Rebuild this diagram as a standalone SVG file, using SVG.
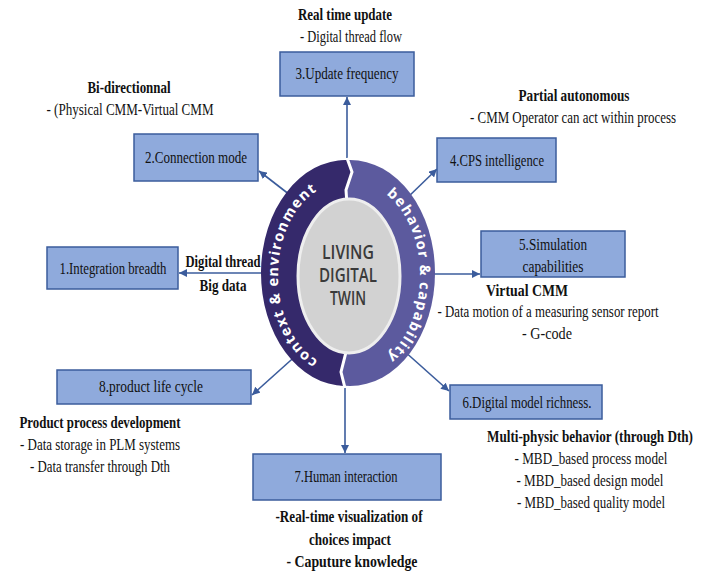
<svg xmlns="http://www.w3.org/2000/svg" width="707" height="574" viewBox="0 0 707 574">
<defs>
<style>
.box{fill:#8faadc;stroke:#3b5c9c;stroke-width:1.5}
.t{font-family:"Liberation Serif","Times New Roman","DejaVu Serif",serif;font-size:16px;fill:#111;text-anchor:middle}
.b{font-weight:bold}
.con{stroke:#3b5c9c;stroke-width:1.6;fill:none;marker-end:url(#ah)}
.ring{font-family:"Open Sans","DejaVu Sans",sans-serif;font-size:14.5px;font-weight:bold;fill:#fff;letter-spacing:1.3px}
.core{font-family:"Open Sans","DejaVu Sans",sans-serif;font-size:20px;font-weight:600;fill:#3a3a3a;text-anchor:middle}
</style>
<marker id="ah" viewBox="0 0 10 10" refX="10" refY="5" markerWidth="8" markerHeight="8" markerUnits="userSpaceOnUse" orient="auto">
<path d="M0,0 L10,5 L0,10 Z" fill="#3b5c9c"/>
</marker>
<path id="pl" d="M341,367 A62 90 0 0 1 341,184"/>
<path id="pr" d="M357,184 A62 90 0 0 1 357,367"/>
</defs>
<rect width="707" height="574" fill="#fff"/>

<g id="connectors">
<line class="con" x1="265" y1="273" x2="179" y2="273"/>
<line class="con" x1="290" y1="195" x2="259" y2="171"/>
<line class="con" x1="347" y1="158" x2="347" y2="97"/>
<line class="con" x1="405" y1="200" x2="437" y2="169"/>
<line class="con" x1="432" y1="274" x2="480" y2="274"/>
<line class="con" x1="403" y1="350" x2="449" y2="391"/>
<line class="con" x1="345" y1="388" x2="345" y2="453"/>
<line class="con" x1="300" y1="352" x2="252" y2="395"/>
</g>

<g id="core">
<ellipse cx="350" cy="273" rx="85" ry="113" fill="#5c5a9e"/>
<path d="M345,386 A85 113 0 0 1 347,160 L352,172 L346,190 L346,352 L341,372 Z" fill="#35296b"/>
<polyline points="347,158 352,172 346,190 347,205" fill="none" stroke="#fff" stroke-width="3"/>
<polyline points="346,345 346,352 341,372 345,388" fill="none" stroke="#fff" stroke-width="3"/>
<ellipse cx="349" cy="276" rx="51" ry="77" fill="#d2d2d2" stroke="#eeeeee" stroke-width="3"/>
<text class="ring"><textPath href="#pl" startOffset="50%" text-anchor="middle">context &amp; environment</textPath></text>
<text class="ring"><textPath href="#pr" startOffset="50%" text-anchor="middle">behavior &amp; capability</textPath></text>
<text class="core" x="348" y="259" textLength="52" lengthAdjust="spacingAndGlyphs">LIVING</text>
<text class="core" x="348" y="282" textLength="58" lengthAdjust="spacingAndGlyphs">DIGITAL</text>
<text class="core" x="348" y="305" textLength="36" lengthAdjust="spacingAndGlyphs">TWIN</text>
</g>

<g id="n3">
<text class="t b" x="345" y="20" textLength="94" lengthAdjust="spacingAndGlyphs">Real time update</text>
<text class="t" x="351" y="42" textLength="102" lengthAdjust="spacingAndGlyphs">- Digital thread flow</text>
<rect class="box" x="280" y="52" width="134" height="44"/>
<text class="t" x="347" y="79" textLength="103" lengthAdjust="spacingAndGlyphs">3.Update frequency</text>
</g>

<g id="n2">
<text class="t b" x="129" y="93" textLength="83" lengthAdjust="spacingAndGlyphs">Bi-directionnal</text>
<text class="t" x="130" y="115" textLength="167" lengthAdjust="spacingAndGlyphs">- (Physical CMM-Virtual CMM</text>
<rect class="box" x="134" y="134" width="124" height="47"/>
<text class="t" x="196" y="163" textLength="102" lengthAdjust="spacingAndGlyphs">2.Connection mode</text>
</g>

<g id="n4">
<text class="t b" x="574" y="101" textLength="111" lengthAdjust="spacingAndGlyphs">Partial autonomous</text>
<text class="t" x="573" y="123" textLength="206" lengthAdjust="spacingAndGlyphs">- CMM Operator can act within process</text>
<rect class="box" x="437" y="138" width="119" height="44"/>
<text class="t" x="497" y="166" textLength="94" lengthAdjust="spacingAndGlyphs">4.CPS intelligence</text>
</g>

<g id="n1">
<rect class="box" x="47" y="247" width="131" height="42"/>
<text class="t" x="113" y="274" textLength="107" lengthAdjust="spacingAndGlyphs">1.Integration breadth</text>
<text class="t b" x="223" y="267" textLength="75" lengthAdjust="spacingAndGlyphs">Digital thread</text>
<text class="t b" x="223" y="291" textLength="47" lengthAdjust="spacingAndGlyphs">Big data</text>
</g>

<g id="n5">
<rect class="box" x="481" y="231" width="144" height="46"/>
<text class="t" x="553" y="250" textLength="68" lengthAdjust="spacingAndGlyphs">5.Simulation</text>
<text class="t" x="553" y="272" textLength="61" lengthAdjust="spacingAndGlyphs">capabilities</text>
<text class="t b" x="527" y="296" textLength="82" lengthAdjust="spacingAndGlyphs">Virtual CMM</text>
<text class="t" x="548" y="317" textLength="221" lengthAdjust="spacingAndGlyphs">- Data motion of a measuring sensor report</text>
<text class="t" x="547" y="339" textLength="50" lengthAdjust="spacingAndGlyphs">- G-code</text>
</g>

<g id="n8">
<rect class="box" x="57" y="370" width="194" height="34"/>
<text class="t" x="151" y="392" textLength="104" lengthAdjust="spacingAndGlyphs">8.product life cycle</text>
<text class="t b" x="100" y="428" textLength="161" lengthAdjust="spacingAndGlyphs">Product process development</text>
<text class="t" x="100" y="450" textLength="160" lengthAdjust="spacingAndGlyphs">- Data storage in PLM systems</text>
<text class="t" x="100" y="472" textLength="140" lengthAdjust="spacingAndGlyphs">- Data transfer through Dth</text>
</g>

<g id="n6">
<rect class="box" x="450" y="385" width="152" height="34"/>
<text class="t" x="527" y="408" textLength="129" lengthAdjust="spacingAndGlyphs">6.Digital model richness.</text>
<text class="t b" x="590" y="442" textLength="206" lengthAdjust="spacingAndGlyphs">Multi-physic behavior (through Dth)</text>
<text class="t" x="591" y="464" textLength="153" lengthAdjust="spacingAndGlyphs">- MBD_based process model</text>
<text class="t" x="590" y="486" textLength="147" lengthAdjust="spacingAndGlyphs">- MBD_based design model</text>
<text class="t" x="591" y="508" textLength="148" lengthAdjust="spacingAndGlyphs">- MBD_based quality model</text>
</g>

<g id="n7">
<rect class="box" x="253" y="454" width="188" height="46"/>
<text class="t" x="346" y="482" textLength="103" lengthAdjust="spacingAndGlyphs">7.Human interaction</text>
<text class="t b" x="349" y="522" textLength="147" lengthAdjust="spacingAndGlyphs">-Real-time visualization of</text>
<text class="t b" x="350" y="545" textLength="82" lengthAdjust="spacingAndGlyphs">choices impact</text>
<text class="t b" x="352" y="567" textLength="131" lengthAdjust="spacingAndGlyphs">- Caputure knowledge</text>
</g>
</svg>
